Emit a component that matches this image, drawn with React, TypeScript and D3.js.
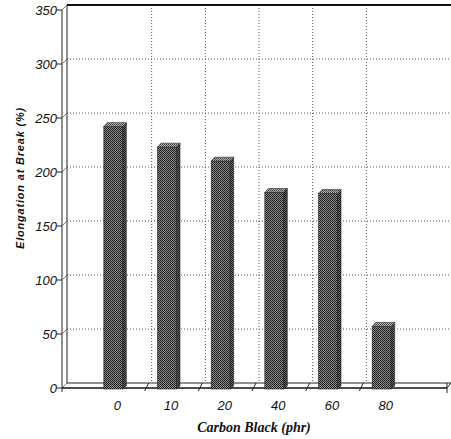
import React from "react";
import * as d3 from "d3";

const categories = ["0", "10", "20", "40", "60", "80"];
const values = [242, 223, 210, 181, 180, 57];
const yTicks = [0, 50, 100, 150, 200, 250, 300, 350];
const xTitle = "Carbon Black (phr)";
const yTitle = "Elongation at Break (%)";

const W = 451;
const H = 439;

export default function App() {
  const y = d3.scaleLinear().domain([0, 350]).range([388, 10]);
  const x = d3.scaleBand<string>().domain(categories).range([90, 412]).paddingInner(0);
  const bw = x.bandwidth();
  const dx = 5;
  const dy = -5;
  const frontX = 62;
  const backX = frontX + dx;
  const floorY = y(0);
  const backFloorY = floorY + dy;
  const rightFront = 447;
  const rightBack = 451;

  const boundaries = categories.slice(1).map((c) => x(c) as number);

  return (
    <svg
      width={W}
      height={H}
      style={{ position: "absolute", left: 0, top: 0, background: "#fff" }}
      fontFamily="'Liberation Sans', Arial, sans-serif"
    >
      <defs>
        <pattern id="dith" width="2" height="2" patternUnits="userSpaceOnUse">
          <rect width="2" height="2" fill="#8c8c8c" />
          <rect x="0" y="0" width="1" height="1" fill="#151515" />
          <rect x="1" y="1" width="1" height="1" fill="#252525" />
        </pattern>
        <pattern id="dithL" width="2" height="2" patternUnits="userSpaceOnUse">
          <rect width="2" height="2" fill="#b8b8b8" />
          <rect x="0" y="0" width="1" height="1" fill="#333" />
          <rect x="1" y="1" width="1" height="1" fill="#555" />
        </pattern>
        <pattern id="dithD" width="2" height="2" patternUnits="userSpaceOnUse">
          <rect width="2" height="2" fill="#6a6a6a" />
          <rect x="0" y="0" width="1" height="1" fill="#111" />
          <rect x="1" y="1" width="1" height="1" fill="#1a1a1a" />
        </pattern>
      </defs>

      {/* horizontal gridlines on back wall */}
      {yTicks.map((t) =>
        t > 0 && t < 350 ? (
          <line
            key={"hg" + t}
            x1={backX}
            x2={rightBack}
            y1={y(t) + dy}
            y2={y(t) + dy}
            stroke="#555"
            strokeWidth={1}
            strokeDasharray="1,2"
          />
        ) : null
      )}
      {/* vertical gridlines on back wall */}
      {boundaries.map((b, i) => (
        <line
          key={"vg" + i}
          x1={b + 8}
          x2={b + 8}
          y1={y(350) + dy}
          y2={backFloorY}
          stroke="#555"
          strokeWidth={1}
          strokeDasharray="1,2"
        />
      ))}

      {/* left wall */}
      <line x1={frontX} x2={frontX} y1={y(350)} y2={floorY} stroke="#222" strokeWidth={1} />
      <line x1={backX} x2={backX} y1={y(350) + dy} y2={backFloorY} stroke="#222" strokeWidth={1} />
      <line x1={frontX} x2={backX} y1={y(350)} y2={y(350) + dy} stroke="#222" strokeWidth={1} />
      {/* top of back wall */}
      <line x1={backX} x2={rightBack} y1={y(350) + dy} y2={y(350) + dy} stroke="#111" strokeWidth={2} />

      {/* y ticks */}
      {yTicks.map((t) => (
        <g key={"yt" + t}>
          <line x1={frontX - 5} x2={frontX} y1={y(t)} y2={y(t)} stroke="#222" />
          <line x1={frontX} x2={backX} y1={y(t)} y2={y(t) + dy} stroke="#777" />
          <text
            x={frontX - 5}
            y={y(t) + 4.5}
            textAnchor="end"
            fontSize={13}
            fontStyle="italic"
            fill="#111"
          >
            {t}
          </text>
        </g>
      ))}

      {/* floor */}
      <line x1={backX} x2={rightBack} y1={backFloorY} y2={backFloorY} stroke="#222" strokeWidth={1} />
      <line x1={frontX} x2={rightFront} y1={floorY} y2={floorY} stroke="#111" strokeWidth={1.5} />
      <line x1={rightFront} x2={rightBack} y1={floorY} y2={backFloorY} stroke="#222" />
      <line x1={rightFront} x2={rightFront} y1={backFloorY} y2={floorY + 5} stroke="#222" />
      <line x1={frontX} x2={frontX} y1={floorY} y2={floorY + 4} stroke="#222" />
      {boundaries.map((b, i) => (
        <line
          key={"ft" + i}
          x1={b + 1}
          x2={b + 5}
          y1={floorY + 3}
          y2={backFloorY}
          stroke="#222"
        />
      ))}

      {/* bars */}
      {categories.map((c, i) => {
        const xc = (x(c) as number) + bw / 2;
        const left = xc - 13;
        const right = xc + 6;
        const top = y(values[i]);
        const d = 3.5;
        return (
          <g key={"bar" + c}>
            <rect
              x={left}
              y={top}
              width={right - left}
              height={floorY + 1 - top}
              fill="url(#dith)"
              stroke="#222"
              strokeWidth={0.6}
            />
            <polygon
              points={`${right},${top} ${right + d},${top - 4} ${right + d},${floorY - 2} ${right},${floorY + 1}`}
              fill="url(#dithD)"
              stroke="#222"
              strokeWidth={0.6}
            />
            <polygon
              points={`${left},${top} ${left + d},${top - 4} ${right + d},${top - 4} ${right},${top}`}
              fill="url(#dithL)"
              stroke="#222"
              strokeWidth={0.6}
            />
          </g>
        );
      })}

      {/* x tick labels */}
      {categories.map((c) => (
        <text
          key={"xl" + c}
          x={(x(c) as number) + bw / 2 + 0.5}
          y={410}
          textAnchor="middle"
          fontSize={13}
          fontStyle="italic"
          fill="#111"
        >
          {c}
        </text>
      ))}

      {/* axis titles */}
      <text
        x={254}
        y={432}
        textAnchor="middle"
        fontFamily="'Liberation Serif', 'Times New Roman', serif"
        fontWeight="bold"
        fontStyle="italic"
        fontSize={14}
        fill="#111"
      >
        {xTitle}
      </text>
      <text
        transform="translate(24,178) rotate(-90)"
        textAnchor="middle"
        fontWeight="bold"
        fontStyle="italic"
        fontSize={11}
        letterSpacing={0.8}
        fill="#111"
      >
        {yTitle}
      </text>
    </svg>
  );
}
